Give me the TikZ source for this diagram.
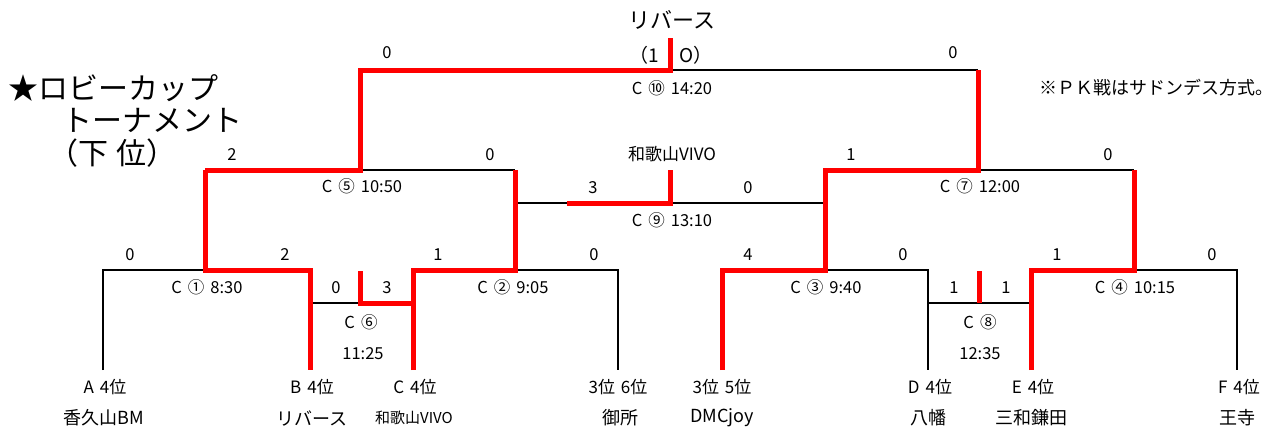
\documentclass[tikz,border=0pt]{standalone}
\usepackage{fontspec}
\setmainfont{Noto Sans CJK JP}
\newcommand{\gp}{\hspace{6pt}}
\begin{document}
\begin{tikzpicture}[x=1pt,y=-1pt,
  lose/.style={draw=black,line width=1.8pt},
  win/.style={draw=red,line width=5pt,line join=miter},
  sc/.style={inner sep=0pt,font=\fontsize{16.5}{16.5}\selectfont},
  ml/.style={inner sep=0pt,font=\fontsize{16.5}{16.5}\selectfont},
  lf/.style={inner sep=0pt,font=\fontsize{17}{17}\selectfont},
  tm/.style={inner sep=0pt,font=\fontsize{18}{18}\selectfont},
  ttl/.style={inner sep=0pt,anchor=west,font=\fontsize{30}{30}\selectfont}]
\useasboundingbox (0,0) rectangle (1282,432);
% leaves
\coordinate (a) at (103,370);  \coordinate (a1) at (103,270);
\coordinate (b) at (310,370);  \coordinate (b1) at (310,270);
\coordinate (c) at (413,370);  \coordinate (c1) at (413,270);
\coordinate (g) at (618,370);  \coordinate (g1) at (618,270);
\coordinate (h) at (722,370);  \coordinate (h1) at (722,270);
\coordinate (d) at (928,370);  \coordinate (d1) at (928,270);
\coordinate (e) at (1031,370); \coordinate (e1) at (1031,270);
\coordinate (f) at (1237,370); \coordinate (f1) at (1237,270);
% match points
\coordinate (m1) at (205,270); \coordinate (m2) at (515,270);
\coordinate (m3) at (825,270); \coordinate (m4) at (1134,270);
\coordinate (b6) at (310,303); \coordinate (m6) at (360,303); \coordinate (c6) at (413,303); \coordinate (m6t) at (360,271);
\coordinate (d8) at (928,303); \coordinate (m8) at (979,303); \coordinate (e8) at (1031,303); \coordinate (m8t) at (979,271);
\coordinate (m5L) at (205,170); \coordinate (m5) at (360,170); \coordinate (m5R) at (515,170);
\coordinate (m7L) at (825,170); \coordinate (m7) at (978,170); \coordinate (m7R) at (1134,170);
\coordinate (m9L) at (515,203); \coordinate (m9r) at (567,203); \coordinate (m9) at (670,203); \coordinate (m9R) at (823,203); \coordinate (m9t) at (670,170);
\coordinate (m10L) at (360,70); \coordinate (m10) at (670,70); \coordinate (m10R) at (978,70); \coordinate (m10t) at (670,38);
% black lines
\draw[lose] (a) -- (a1) -- (m1);
\draw[lose] (b6) -- (m6);
\draw[lose] (m2) -- (g1) -- (g);
\draw[lose] (m5) -- (m5R);
\draw[lose] (m9L) -- (m9r);
\draw[lose] (m9) -- (m9R);
\draw[lose] (m10) -- (m10R);
\draw[lose] (m3) -- (d1) -- (d);
\draw[lose] (d8) -- (e8);
\draw[lose] (m4) -- (f1) -- (f);
\draw[lose] (m7) -- (m7R);
% red lines
\draw[win] (m5L) -- (m1) -- (b1) -- (b);
\draw[win] (m6t) -- (m6) -- (c6);
\draw[win] (c) -- (c1) -- (m2) -- (m5R);
\draw[win] (m5L) -- (m5) -- (m10L) -- (m10) -- (m10t);
\draw[win] (m9r) -- (m9) -- (m9t);
\draw[win] (h) -- (h1) -- (m3) -- (m7L) -- (m7) -- (m10R);
\draw[win] (m8) -- (m8t);
\draw[win] (e) -- (e1) -- (m4) -- (m7R);
% scores
\node[sc] (s1a) at (130,255) {0};  \node[sc] (s1b) at (285,255) {2};
\node[sc] (s6a) at (336,288) {0};  \node[sc] (s6b) at (387,288) {3};
\node[sc] (s2a) at (438,255) {1};  \node[sc] (s2b) at (594,255) {0};
\node[sc] (s3a) at (748,255) {4};  \node[sc] (s3b) at (903,255) {0};
\node[sc] (s8a) at (954,288) {1};  \node[sc] (s8b) at (1006,288) {1};
\node[sc] (s4a) at (1057,255) {1}; \node[sc] (s4b) at (1212,255) {0};
\node[sc] (s5a) at (232,155) {2};  \node[sc] (s5b) at (490,155) {0};
\node[sc] (s7a) at (851,155) {1};  \node[sc] (s7b) at (1108,155) {0};
\node[sc] (s9a) at (593,188) {3};  \node[sc] (s9b) at (748,188) {0};
\node[sc] (s10a) at (387,53) {0};  \node[sc] (s10b) at (953,53) {0};
\node[inner sep=0pt,anchor=east,font=\fontsize{19}{19}\selectfont] (p1) at (659,55) {（1};
\node[inner sep=0pt,anchor=west,font=\fontsize{19}{19}\selectfont] (p2) at (679,55) {O）};
% match labels
\node[ml] (l1) at (207,287) {C\gp①\gp8:30};
\node[ml] (l2) at (513,287) {C\gp②\gp9:05};
\node[ml] (l3) at (826,287) {C\gp③\gp9:40};
\node[ml] (l4) at (1135,287) {C\gp④\gp10:15};
\node[ml] (l5) at (362,186) {C\gp⑤\gp10:50};
\node[ml] (l6) at (361,322) {C\gp⑥};
\node[ml] (l6t) at (363,354) {11:25};
\node[ml] (l7) at (980,186) {C\gp⑦\gp12:00};
\node[ml] (l8) at (980,322) {C\gp⑧};
\node[ml] (l8t) at (980,354) {12:35};
\node[ml] (l9) at (672,220) {C\gp⑨\gp13:10};
\node[ml] (l10) at (672,88) {C\gp⑩\gp14:20};
\node[lf] (w9) at (672,154) {和歌山VIVO};
\node[inner sep=0pt,font=\fontsize{22}{22}\selectfont] (w10) at (672,20) {リバース};
% leaf labels
\node[lf] (la) at (105,387) {A\gp 4位};
\node[lf] (lb) at (312,387) {B\gp 4位};
\node[lf] (lc) at (415,387) {C\gp 4位};
\node[lf] (lg) at (618,387) {3位\gp 6位};
\node[lf] (lh) at (722,387) {3位\gp 5位};
\node[lf] (ld) at (930,387) {D\gp 4位};
\node[lf] (le) at (1033,387) {E\gp 4位};
\node[lf] (lfn) at (1239,387) {F\gp 4位};
\node[tm] (ta) at (104,418) {香久山BM};
\node[tm] (tb) at (312,418) {リバース};
\node[inner sep=0pt,font=\fontsize{15}{15}\selectfont] (tc) at (414,418) {和歌山VIVO};
\node[tm] (tg) at (620,418) {御所};
\node[tm] (th) at (722,418) {DMCjoy};
\node[tm] (td) at (928,418) {八幡};
\node[tm] (te) at (1031,418) {三和鎌田};
\node[tm] (tf) at (1237,418) {王寺};
% title and note
\node[ttl] (t1) at (8,88) {★ロビーカップ};
\node[ttl] (t2) at (62,120) {トーナメント};
\node[ttl] (t3) at (48,153) {（下\hspace{8pt}位）};
\node[inner sep=0pt,anchor=east,font=\fontsize{18}{18}\selectfont] (nt) at (1274,88) {※ＰＫ戦はサドンデス方式。};
\end{tikzpicture}
\end{document}
